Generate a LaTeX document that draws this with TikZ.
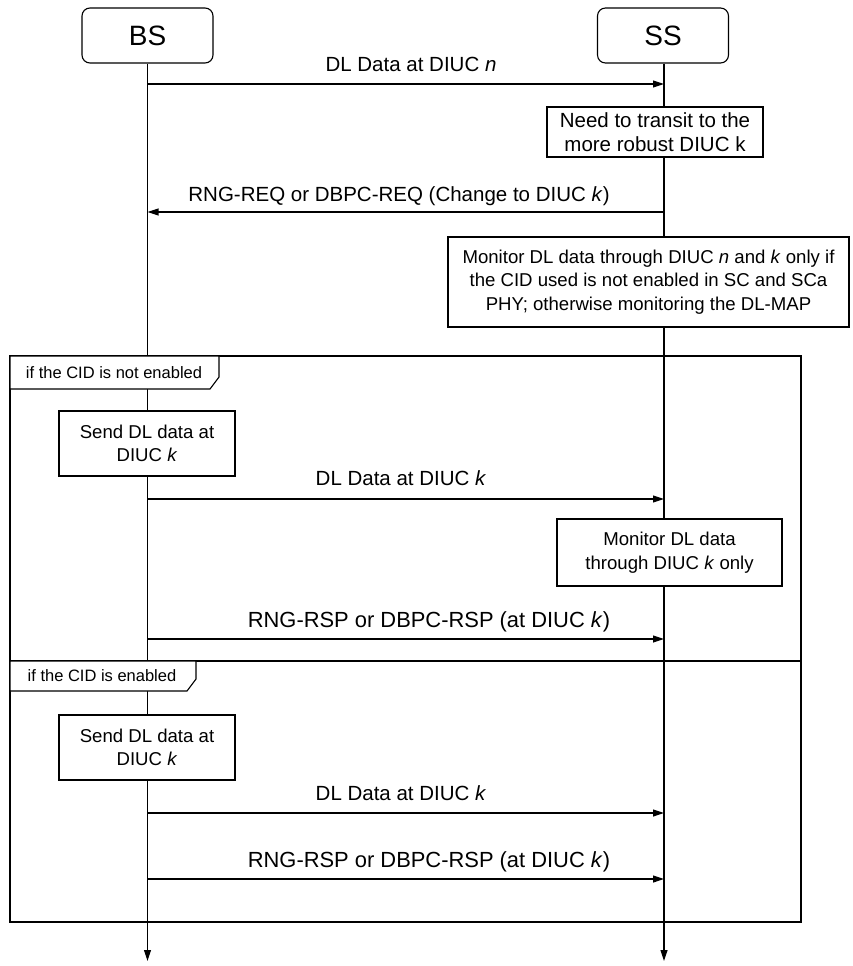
\documentclass[tikz,border=0pt]{standalone}
\usepackage{fontspec}
\setmainfont{Liberation Sans}
\usetikzlibrary{arrows.meta}
\begin{document}
\begin{tikzpicture}[x=1pt,y=-1pt,
  line width=1.1pt,
  entity/.style={draw,rounded corners=8pt,minimum width=131pt,minimum height=55pt,font=\fontsize{28}{30}\selectfont,fill=white},
  actbox/.style={draw,fill=white,align=center,inner sep=0pt,font=\fontsize{18.6}{23.5}\selectfont},
  bigbox/.style={actbox,font=\fontsize{20.5}{23.5}\selectfont},
  msg/.style={-{Triangle[length=11pt,width=7pt]}},
  lbl/.style={anchor=base,inner sep=0pt,font=\fontsize{20.5}{23.5}\selectfont},
  lblbig/.style={lbl,font=\fontsize{21.9}{24}\selectfont},
  tablbl/.style={anchor=center,inner sep=0pt,font=\fontsize{16.5}{18}\selectfont}]
\useasboundingbox (0,0) rectangle (852,966);
% entities
\node[entity] (BS) at (147.5,35.5) {BS};
\node[entity] (SS) at (663,35.5) {SS};
% lifeline ends
\coordinate (BSend) at (147.5,961);
\coordinate (SSend) at (664,961);
\draw[msg] (BS.south) -- (BSend);
\draw[msg] (SS.south -| SSend) -- (SSend);
% frames
\coordinate (F1tl) at (10,356);
\coordinate (F1br) at (801,661);
\coordinate (F2br) at (801,922);
\draw (F1tl) rectangle (F2br);
\draw (10,661) -- (F1br);
\filldraw[fill=white] (10,356) -- (10,389) -- (210,389) -- (219,377) -- (219,356) -- cycle;
\node[tablbl] (T1) at (114,372.5) {if the CID is not enabled};
\filldraw[fill=white] (10,661) -- (10,691) -- (187,691) -- (196,679) -- (196,661) -- cycle;
\node[tablbl] (T2) at (102,676) {if the CID is enabled};
% messages
\coordinate (b1) at (147.5,84);  \coordinate (s1) at (664,84);
\draw[msg] (b1) -- (s1);
\node[lbl] (L1) at (411,71) {DL Data at DIUC \textit{n}};
\node[bigbox,minimum width=216pt,minimum height=50pt] (N1) at (655,132) {Need to transit to the\\more robust DIUC k};
\coordinate (s2) at (664,212);  \coordinate (b2) at (147.5,212);
\draw[msg] (s2) -- (b2);
\node[lbl] (L2) at (399,201) {RNG-REQ or DBPC-REQ (Change to DIUC \textit{k})};
\node[actbox,minimum width=401pt,minimum height=90pt] (N2) at (648.5,282) {Monitor DL data through DIUC \textit{n} and \textit{k} only if\\the CID used is not enabled in SC and SCa\\PHY; otherwise monitoring the DL-MAP};
% frame 1 content
\node[actbox,minimum width=176pt,minimum height=65pt] (S1) at (147,443.5) {Send DL data at\\DIUC \textit{k}};
\coordinate (b3) at (147.5,499);  \coordinate (s3) at (664,499);
\draw[msg] (b3) -- (s3);
\node[lbl] (L3) at (401,485) {DL Data at DIUC \textit{k}};
\node[actbox,minimum width=225pt,minimum height=67pt] (M1) at (669.5,552.5) {Monitor DL data\\through DIUC \textit{k} only};
\coordinate (b4) at (147.5,639);  \coordinate (s4) at (664,639);
\draw[msg] (b4) -- (s4);
\node[lblbig] (L4) at (429,627) {RNG-RSP or DBPC-RSP (at DIUC \textit{k})};
% frame 2 content
\node[actbox,minimum width=176pt,minimum height=65pt] (S2) at (147,747.5) {Send DL data at\\DIUC \textit{k}};
\coordinate (b5) at (147.5,813);  \coordinate (s5) at (664,813);
\draw[msg] (b5) -- (s5);
\node[lbl] (L5) at (401,800) {DL Data at DIUC \textit{k}};
\coordinate (b6) at (147.5,879);  \coordinate (s6) at (664,879);
\draw[msg] (b6) -- (s6);
\node[lblbig] (L6) at (429,867) {RNG-RSP or DBPC-RSP (at DIUC \textit{k})};
\end{tikzpicture}
\end{document}
